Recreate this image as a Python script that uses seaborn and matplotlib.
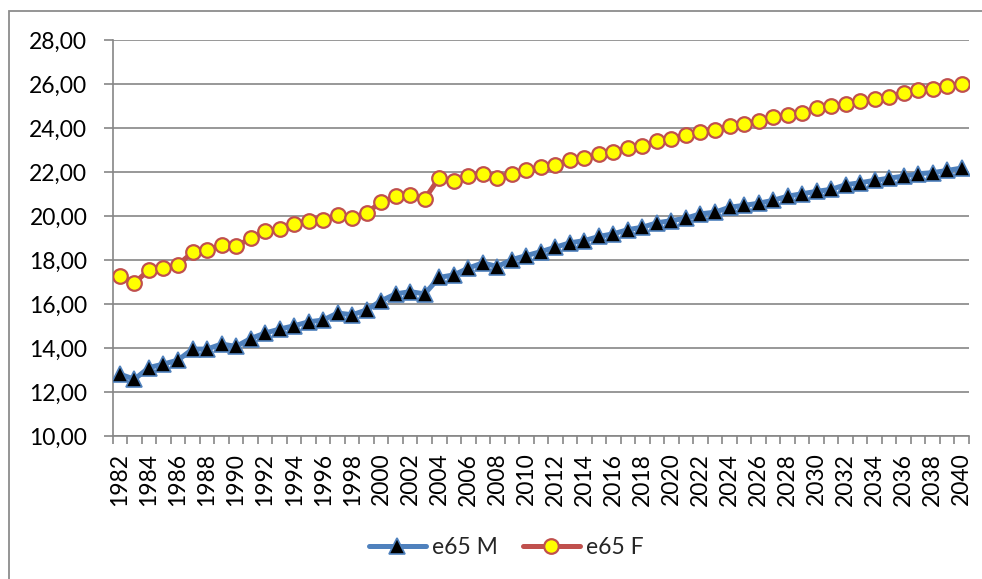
import numpy as np
import pandas as pd
import matplotlib
matplotlib.use("Agg")
import matplotlib.pyplot as plt
from matplotlib.patches import Rectangle
from matplotlib.ticker import FixedLocator, FuncFormatter
import seaborn as sns

# Life expectancy at age 65, by sex, 1982-2040
years = list(range(1982, 2041))

e65_m = [12.81, 12.58, 13.11, 13.27, 13.45, 13.95, 13.95, 14.18, 14.07, 14.43,
         14.68, 14.86, 15.01, 15.19, 15.27, 15.59, 15.51, 15.73, 16.15, 16.46,
         16.56, 16.46, 17.21, 17.32, 17.63, 17.87, 17.70, 18.02, 18.20, 18.38,
         18.58, 18.78, 18.88, 19.07, 19.19, 19.38, 19.49, 19.69, 19.79, 19.90,
         20.10, 20.17, 20.40, 20.48, 20.58, 20.71, 20.90, 21.01, 21.12, 21.21,
         21.42, 21.51, 21.62, 21.72, 21.81, 21.92, 21.97, 22.07, 22.18]

e65_f = [17.26, 16.96, 17.55, 17.62, 17.78, 18.35, 18.47, 18.66, 18.62, 18.99,
         19.31, 19.42, 19.64, 19.79, 19.84, 20.05, 19.92, 20.15, 20.63, 20.89,
         20.97, 20.78, 21.74, 21.57, 21.80, 21.89, 21.74, 21.92, 22.07, 22.22,
         22.33, 22.53, 22.63, 22.80, 22.91, 23.11, 23.20, 23.41, 23.52, 23.70,
         23.82, 23.90, 24.11, 24.20, 24.32, 24.50, 24.58, 24.70, 24.91, 25.00,
         25.11, 25.22, 25.31, 25.41, 25.61, 25.72, 25.79, 25.90, 26.02]

series_names = ["e65 M", "e65 F"]
y_ticks = [10, 12, 14, 16, 18, 20, 22, 24, 26, 28]

df = pd.DataFrame({
    "pos": list(range(len(years))) * 2,
    "value": e65_m + e65_f,
    "series": [series_names[0]] * len(years) + [series_names[1]] * len(years),
})

sns.set_style("white")
plt.rcParams["font.family"] = ["Lato", "DejaVu Sans"]

GRID = "#868686"
BLUE = "#4F81BD"
RED = "#C0504D"
FS = 16.5

fig = plt.figure(figsize=(9.82, 5.79), dpi=100)
fig.patch.set_facecolor("white")

# chart frame
fig.add_artist(Rectangle((9 / 982, -0.05), 1.2, 1 - 11 / 579 + 0.05,
                         transform=fig.transFigure, fill=False,
                         edgecolor="#8C8C8C", linewidth=1.3))

ax = fig.add_axes([112.7 / 982, 1 - 436 / 579, (969 - 112.7) / 982, (436 - 40) / 579])

sns.lineplot(data=df[df.series == series_names[0]], x="pos", y="value", ax=ax,
             color=BLUE, linewidth=3.6, marker="^", markersize=11,
             markerfacecolor="black", markeredgecolor=BLUE, markeredgewidth=1.2,
             label=series_names[0], zorder=3)
sns.lineplot(data=df[df.series == series_names[1]], x="pos", y="value", ax=ax,
             color=RED, linewidth=3.6, marker="o", markersize=10.5,
             markerfacecolor="#FFFF00", markeredgecolor=RED, markeredgewidth=1.6,
             label=series_names[1], zorder=4)

ax.set_xlim(-0.5, len(years) - 0.5)
ax.set_ylim(10, 28)
ax.set_xlabel("")
ax.set_ylabel("")

# y axis
ax.yaxis.set_major_locator(FixedLocator(y_ticks))
ax.yaxis.set_major_formatter(FuncFormatter(lambda v, p: f"{v:.2f}".replace(".", ",")))
ax.grid(axis="y", color=GRID, linewidth=1.2)
ax.grid(axis="x", visible=False)
ax.tick_params(axis="y", which="major", left=True, length=6.3, width=1.2,
               color=GRID, pad=12, labelsize=FS, labelcolor="black")

# x axis: labels every second year, ticks at category boundaries
ax.xaxis.set_major_locator(FixedLocator(list(range(0, len(years), 2))))
ax.xaxis.set_major_formatter(FuncFormatter(lambda v, p: str(years[int(round(v))])))
ax.xaxis.set_minor_locator(FixedLocator([i - 0.5 for i in range(len(years) + 1)]))
ax.tick_params(axis="x", which="major", bottom=True, length=0, pad=12,
               labelsize=FS, labelrotation=90, labelcolor="black")
ax.tick_params(axis="x", which="minor", bottom=True, length=5.8, width=1.2, color=GRID)

for side in ("top", "right"):
    ax.spines[side].set_visible(False)
for side in ("left", "bottom"):
    ax.spines[side].set_color(GRID)
    ax.spines[side].set_linewidth(1.2)

ax.get_legend().remove()
handles, labels = ax.get_legend_handles_labels()
fig.legend(handles, labels, loc="center", bbox_to_anchor=(506 / 982, 1 - 548 / 579),
           ncol=2, frameon=False, fontsize=FS, handlelength=2.5,
           handletextpad=0.25, columnspacing=1.1)

fig.savefig("out.png", dpi=100)
